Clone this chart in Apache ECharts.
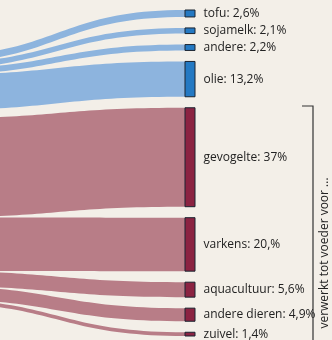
<!DOCTYPE html>
<html><head><meta charset="utf-8">
<script src="https://cdn.jsdelivr.net/npm/echarts@6/dist/echarts.min.js"></script>
<style>html,body{margin:0;padding:0;background:#f3efe8;}#c{width:332px;height:340px;}</style>
</head><body><div id="c"></div>
<script>
// ---- data ----
const categories = ['tofu', 'sojamelk', 'andere', 'olie', 'gevogelte', 'varkens', 'aquacultuur', 'andere dieren', 'zuivel'];
const values = [2.6, 2.1, 2.2, 13.2, 37, 20, 5.6, 4.9, 1.4];
const valueLabels = ['2,6%', '2,1%', '2,2%', '13,2%', '37%', '20,%', '5,6%', '4,9%', '1,4%'];
const groupOf = ['voedsel', 'voedsel', 'voedsel', 'voedsel', 'voeder', 'voeder', 'voeder', 'voeder', 'voeder'];
const sourceNames = ['voedsel', 'voeder'];
const bracketText = 'verwerkt tot voeder voor ...';

// ---- styling / layout (not data) ----
const linkColor = { voedsel: '#8db4de', voeder: '#b87d87' };
const nodeColor = { voedsel: '#2479c3', voeder: '#8b2342' };
const sourceLocalY = { voedsel: 0.142, voeder: 0.333 }; // off-screen sources

const nodes = sourceNames.map(n => ({
  name: n,
  localY: sourceLocalY[n],
  itemStyle: { color: nodeColor[n] },
  label: { show: false }
})).concat(categories.map((c, i) => ({
  name: c,
  itemStyle: { color: nodeColor[groupOf[i]] },
  label: { formatter: c + ': ' + valueLabels[i] }
})));

const links = categories.map((c, i) => ({
  source: groupOf[i],
  target: c,
  value: values[i],
  lineStyle: { color: linkColor[groupOf[i]] }
}));

const chart = echarts.init(document.getElementById('c'), null, { renderer: 'canvas' });
chart.setOption({
  backgroundColor: '#f3efe8',
  animation: false,
  series: [{
    type: 'sankey',
    left: -81, right: 137, top: 10, bottom: 4,
    nodeWidth: 10,
    nodeGap: 11,
    layoutIterations: 0,
    draggable: false,
    emphasis: { disabled: true },
    data: nodes,
    links: links,
    label: { show: true, position: 'right', distance: 8, color: '#222', fontFamily: 'Open Sans', fontSize: 12 },
    lineStyle: { opacity: 1, curveness: 0.5 },
    itemStyle: { borderColor: '#1b2430', borderWidth: 1 }
  }],
  graphic: [
    { type: 'polyline', shape: { points: [[302, 106], [313, 106], [313, 345]] }, style: { stroke: '#333', lineWidth: 1.2, fill: null } },
    { type: 'text', x: 325, y: 253, rotation: Math.PI / 2,
      style: { text: bracketText, font: '12px "Open Sans"', fill: '#222', align: 'center', verticalAlign: 'middle' } }
  ]
});
</script></body></html>
